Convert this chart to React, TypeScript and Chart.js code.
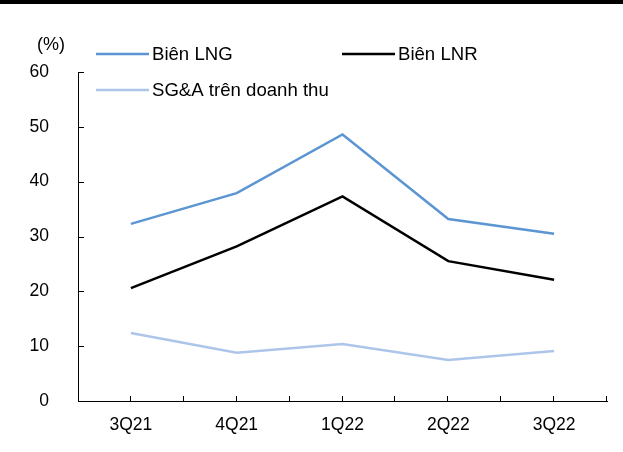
import { useEffect, useRef } from 'react';
import { Chart, registerables } from 'chart.js';

Chart.register(...registerables);

const categories = ['3Q21', '4Q21', '1Q22', '2Q22', '3Q22'];
const bienLNG = [32.3, 37.9, 48.6, 33.2, 30.5];
const bienLNR = [20.6, 28.2, 37.3, 25.5, 22.1];
const sgaTrenDoanhThu = [12.4, 8.8, 10.4, 7.5, 9.1];
const seriesLabels = ['Biên LNG', 'Biên LNR', 'SG&A trên doanh thu'];
const unitLabel = '(%)';

const FONT = '"Liberation Sans", Arial, sans-serif';

export default function App() {
  const ref = useRef<HTMLCanvasElement>(null);

  useEffect(() => {
    document.body.style.margin = '0';
    const canvas = ref.current;
    if (!canvas) return;

    const decor = {
      id: 'decor',
      afterDraw(chart: any) {
        const ctx = chart.ctx as CanvasRenderingContext2D;
        const { left, right, bottom } = chart.chartArea;
        ctx.save();
        // top rule
        ctx.fillStyle = '#000';
        ctx.fillRect(0, 0, chart.width, 4);

        // inside y ticks
        ctx.strokeStyle = '#000';
        ctx.lineWidth = 1;
        const ys = chart.scales.y;
        for (let v = 10; v <= 60; v += 10) {
          const py = Math.round(ys.getPixelForValue(v)) + 0.5;
          ctx.beginPath();
          ctx.moveTo(left, py);
          ctx.lineTo(left + 6, py);
          ctx.stroke();
        }
        // inside x ticks (centers and boundaries)
        const n = categories.length;
        const w = (right - left) / n;
        for (let i = 1; i <= 2 * n; i++) {
          const px = Math.round(left + (i * w) / 2) - 0.5;
          ctx.beginPath();
          ctx.moveTo(px, bottom);
          ctx.lineTo(px, bottom - 5);
          ctx.stroke();
        }

        // unit label
        ctx.fillStyle = '#000';
        ctx.font = `18px ${FONT}`;
        ctx.textAlign = 'left';
        ctx.textBaseline = 'middle';
        ctx.fillText(unitLabel, 37, 45);

        // legend
        const pos = [
          [96, 54],
          [342, 54],
          [96, 90],
        ];
        ctx.font = `18.6px ${FONT}`;
        chart.data.datasets.forEach((ds: any, i: number) => {
          const [lx, ly] = pos[i];
          ctx.strokeStyle = ds.borderColor;
          ctx.lineWidth = ds.borderWidth;
          ctx.beginPath();
          ctx.moveTo(lx, ly);
          ctx.lineTo(lx + 53, ly);
          ctx.stroke();
          ctx.fillStyle = '#000';
          ctx.fillText(ds.label, lx + 56, ly + 1);
        });
        ctx.restore();
      },
    };

    const chart = new Chart(canvas, {
      type: 'line',
      data: {
        labels: categories,
        datasets: [
          {
            label: seriesLabels[0],
            data: bienLNG,
            borderColor: '#5B95D2',
            borderWidth: 2.5,
            pointRadius: 0,
            tension: 0,
          },
          {
            label: seriesLabels[1],
            data: bienLNR,
            borderColor: '#000000',
            borderWidth: 2.5,
            pointRadius: 0,
            tension: 0,
          },
          {
            label: seriesLabels[2],
            data: sgaTrenDoanhThu,
            borderColor: '#AEC5EA',
            borderWidth: 2.5,
            pointRadius: 0,
            tension: 0,
          },
        ],
      },
      options: {
        responsive: false,
        animation: false,
        layout: { padding: { left: 0, right: 16, top: 72, bottom: 0 } },
        plugins: {
          legend: { display: false },
          tooltip: { enabled: false },
          title: { display: false },
        },
        scales: {
          x: {
            offset: true,
            grid: { display: false },
            border: { display: true, color: '#000', width: 1 },
            ticks: {
              color: '#000',
              padding: 6,
              maxRotation: 0,
              font: { family: FONT, size: 17.5 },
            },
            afterFit(scale: any) {
              scale.height = 51;
            },
          },
          y: {
            min: 0,
            max: 60,
            grid: { display: false },
            border: { display: true, color: '#000', width: 1 },
            ticks: {
              stepSize: 10,
              color: '#000',
              padding: 21,
              font: { family: FONT, size: 17.5 },
            },
            afterFit(scale: any) {
              scale.width = 78;
            },
          },
        },
      },
      plugins: [decor],
    });

    return () => chart.destroy();
  }, []);

  return <canvas ref={ref} width={623} height={452} style={{ display: 'block', width: 623, height: 452 }} />;
}
